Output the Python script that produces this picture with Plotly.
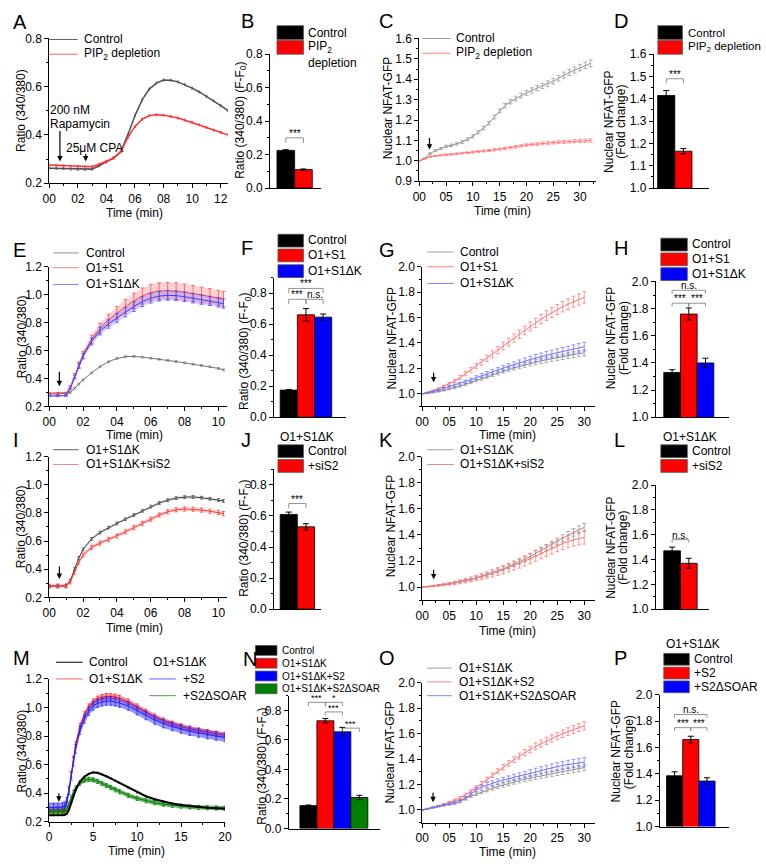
import plotly.graph_objects as go

W, H = 766, 866
FONT = "Liberation Sans"

# ---------------- data ----------------
A_t = [0, 0.5, 1, 1.5, 2, 2.5, 3, 3.5, 4, 4.5, 5, 5.5, 6, 6.5, 7, 7.5, 8, 8.5, 9, 9.5, 10, 10.5, 11, 11.5, 12, 12.5]
A_ctrl = [0.262, 0.261, 0.260, 0.258, 0.257, 0.256, 0.258, 0.272, 0.288, 0.305, 0.330, 0.400, 0.480, 0.545, 0.590, 0.615, 0.628, 0.627, 0.620, 0.608, 0.594, 0.578, 0.560, 0.541, 0.521, 0.501]
A_pip = [0.275, 0.274, 0.272, 0.270, 0.268, 0.267, 0.268, 0.278, 0.290, 0.303, 0.330, 0.390, 0.435, 0.465, 0.480, 0.484, 0.482, 0.477, 0.470, 0.461, 0.452, 0.442, 0.431, 0.420, 0.410, 0.400]
A_sem = 0.004

B_vals = [0.225, 0.11]
B_err = [0.004, 0.004]

C_t = list(range(33))
C_ctrl = [1.000, 1.012, 1.035, 1.050, 1.060, 1.070, 1.076, 1.083, 1.092, 1.105, 1.120, 1.140, 1.160, 1.185, 1.215, 1.245, 1.270, 1.290, 1.305, 1.320, 1.333, 1.345, 1.356, 1.367, 1.378, 1.390, 1.405, 1.420, 1.433, 1.445, 1.457, 1.468, 1.478]
C_pip = [1.000, 1.010, 1.020, 1.024, 1.027, 1.030, 1.032, 1.035, 1.037, 1.040, 1.042, 1.045, 1.048, 1.050, 1.054, 1.057, 1.060, 1.064, 1.068, 1.073, 1.077, 1.080, 1.082, 1.085, 1.087, 1.089, 1.091, 1.092, 1.094, 1.096, 1.097, 1.098, 1.099]
C_ctrl_err = [0, 0.002, 0.004, 0.005, 0.005, 0.006, 0.006, 0.006, 0.007, 0.007, 0.008, 0.008, 0.009, 0.009, 0.010, 0.010, 0.011, 0.011, 0.012, 0.012, 0.012, 0.013, 0.013, 0.013, 0.014, 0.014, 0.014, 0.015, 0.015, 0.015, 0.016, 0.016, 0.016]
C_pip_err = [0, 0.002, 0.003, 0.003, 0.003, 0.004, 0.004, 0.004, 0.004, 0.004, 0.005, 0.005, 0.005, 0.005, 0.005, 0.005, 0.006, 0.006, 0.006, 0.006, 0.006, 0.006, 0.007, 0.007, 0.007, 0.007, 0.007, 0.007, 0.007, 0.008, 0.008, 0.008, 0.008]

D_vals = [1.415, 1.165]
D_err = [0.022, 0.012]

E_t = [0, 0.5, 1.0, 1.25, 1.5, 1.75, 2.0, 2.5, 3.0, 3.5, 4.0, 4.5, 5.0, 5.5, 6.0, 6.5, 7.0, 7.5, 8.0, 8.5, 9.0, 9.5, 10.0, 10.3]
E_ctrl = [0.295, 0.295, 0.296, 0.300, 0.330, 0.360, 0.390, 0.440, 0.485, 0.520, 0.543, 0.556, 0.558, 0.553, 0.546, 0.538, 0.530, 0.521, 0.512, 0.503, 0.494, 0.484, 0.472, 0.462]
E_s1 = [0.290, 0.290, 0.292, 0.340, 0.420, 0.500, 0.570, 0.680, 0.760, 0.820, 0.870, 0.915, 0.955, 0.990, 1.015, 1.025, 1.028, 1.025, 1.018, 1.008, 0.998, 0.988, 0.978, 0.970]
E_dk = [0.275, 0.275, 0.277, 0.330, 0.410, 0.490, 0.560, 0.665, 0.740, 0.790, 0.835, 0.875, 0.915, 0.950, 0.975, 0.990, 0.995, 0.993, 0.985, 0.975, 0.965, 0.955, 0.944, 0.936]
E_ctrl_sem = 0.006
E_s1_err = [0.006, 0.006, 0.006, 0.010, 0.015, 0.020, 0.025, 0.030, 0.035, 0.040, 0.045, 0.050, 0.055, 0.058, 0.060, 0.060, 0.060, 0.060, 0.058, 0.057, 0.056, 0.055, 0.054, 0.053]
E_dk_err = [0.006, 0.006, 0.006, 0.010, 0.014, 0.018, 0.020, 0.025, 0.028, 0.030, 0.032, 0.034, 0.035, 0.035, 0.035, 0.035, 0.035, 0.035, 0.035, 0.034, 0.034, 0.033, 0.033, 0.033]

F_vals = [0.175, 0.66, 0.645]
F_err = [0.004, 0.04, 0.02]

G_t = list(range(31))
G_ctrl = [1.000, 1.004, 1.009, 1.017, 1.026, 1.036, 1.047, 1.060, 1.074, 1.089, 1.104, 1.119, 1.134, 1.149, 1.164, 1.178, 1.190, 1.203, 1.215, 1.227, 1.238, 1.248, 1.258, 1.267, 1.276, 1.284, 1.292, 1.300, 1.308, 1.315, 1.322]
G_s1 = [1.000, 1.010, 1.025, 1.040, 1.058, 1.078, 1.100, 1.128, 1.158, 1.188, 1.218, 1.248, 1.278, 1.310, 1.343, 1.376, 1.407, 1.438, 1.468, 1.498, 1.530, 1.558, 1.588, 1.615, 1.640, 1.663, 1.685, 1.705, 1.725, 1.742, 1.758]
G_dk = [1.000, 1.008, 1.018, 1.030, 1.043, 1.055, 1.066, 1.080, 1.095, 1.110, 1.126, 1.143, 1.158, 1.173, 1.188, 1.203, 1.215, 1.228, 1.242, 1.256, 1.270, 1.282, 1.293, 1.303, 1.313, 1.323, 1.333, 1.343, 1.352, 1.361, 1.370]
G_ctrl_err = [0, 0.002, 0.003, 0.004, 0.005, 0.006, 0.007, 0.008, 0.009, 0.010, 0.011, 0.012, 0.013, 0.014, 0.015, 0.016, 0.017, 0.017, 0.018, 0.019, 0.019, 0.020, 0.020, 0.021, 0.021, 0.022, 0.022, 0.023, 0.023, 0.024, 0.024]
G_s1_err = [0, 0.003, 0.005, 0.007, 0.009, 0.011, 0.013, 0.015, 0.017, 0.019, 0.021, 0.023, 0.025, 0.027, 0.028, 0.030, 0.031, 0.032, 0.033, 0.034, 0.035, 0.036, 0.037, 0.038, 0.039, 0.040, 0.041, 0.042, 0.043, 0.044, 0.045]
G_dk_err = [0, 0.002, 0.004, 0.005, 0.007, 0.008, 0.010, 0.011, 0.013, 0.014, 0.016, 0.017, 0.018, 0.019, 0.020, 0.021, 0.022, 0.023, 0.024, 0.025, 0.026, 0.027, 0.028, 0.029, 0.030, 0.031, 0.031, 0.032, 0.033, 0.034, 0.034]

H_vals = [1.33, 1.76, 1.40]
H_err = [0.02, 0.045, 0.035]

I_t = [0, 0.5, 1.0, 1.25, 1.5, 1.75, 2.0, 2.5, 3.0, 3.5, 4.0, 4.5, 5.0, 5.5, 6.0, 6.5, 7.0, 7.5, 8.0, 8.5, 9.0, 9.5, 10.0, 10.3]
I_dk = [0.280, 0.280, 0.281, 0.320, 0.400, 0.480, 0.540, 0.615, 0.660, 0.695, 0.725, 0.755, 0.785, 0.815, 0.845, 0.870, 0.890, 0.905, 0.912, 0.913, 0.908, 0.900, 0.892, 0.885]
I_si = [0.280, 0.280, 0.281, 0.310, 0.380, 0.450, 0.500, 0.555, 0.585, 0.610, 0.635, 0.665, 0.695, 0.725, 0.755, 0.785, 0.808, 0.822, 0.828, 0.826, 0.820, 0.812, 0.803, 0.795]
I_dk_sem = 0.010
I_si_sem = 0.015

J_vals = [0.61, 0.53]
J_err = [0.015, 0.02]

K_t = list(range(31))
K_dk = [1.000, 1.004, 1.009, 1.014, 1.020, 1.026, 1.033, 1.041, 1.050, 1.060, 1.071, 1.083, 1.096, 1.110, 1.125, 1.141, 1.158, 1.176, 1.195, 1.215, 1.236, 1.258, 1.280, 1.303, 1.327, 1.351, 1.375, 1.398, 1.420, 1.440, 1.458]
K_si = [1.000, 1.004, 1.009, 1.014, 1.020, 1.026, 1.033, 1.041, 1.050, 1.060, 1.070, 1.081, 1.093, 1.106, 1.120, 1.135, 1.150, 1.166, 1.183, 1.201, 1.220, 1.240, 1.260, 1.280, 1.299, 1.317, 1.334, 1.350, 1.363, 1.373, 1.380]
K_dk_err = [0, 0.002, 0.003, 0.004, 0.005, 0.006, 0.007, 0.008, 0.009, 0.010, 0.011, 0.012, 0.013, 0.014, 0.015, 0.016, 0.017, 0.018, 0.019, 0.020, 0.021, 0.022, 0.023, 0.024, 0.025, 0.026, 0.027, 0.028, 0.029, 0.030, 0.030]
K_si_err = [0, 0.003, 0.005, 0.007, 0.009, 0.011, 0.013, 0.015, 0.017, 0.019, 0.021, 0.023, 0.025, 0.027, 0.029, 0.031, 0.033, 0.035, 0.037, 0.039, 0.040, 0.041, 0.042, 0.043, 0.044, 0.045, 0.046, 0.047, 0.048, 0.049, 0.050]

L_vals = [1.47, 1.37]
L_err = [0.03, 0.04]

M_t = [0, 0.5, 1, 1.5, 1.75, 2, 2.25, 2.5, 2.75, 3, 3.5, 4, 4.5, 5, 5.5, 6, 6.5, 7, 7.5, 8, 9, 10, 11, 12, 13, 14, 15, 16, 17, 18, 19, 20]
M_ctrl = [0.245, 0.245, 0.245, 0.245, 0.247, 0.255, 0.285, 0.330, 0.380, 0.420, 0.480, 0.515, 0.535, 0.545, 0.542, 0.532, 0.518, 0.503, 0.487, 0.470, 0.438, 0.405, 0.378, 0.357, 0.340, 0.327, 0.317, 0.309, 0.303, 0.298, 0.294, 0.291]
M_red = [0.280, 0.280, 0.280, 0.282, 0.290, 0.330, 0.420, 0.530, 0.640, 0.740, 0.870, 0.950, 1.005, 1.040, 1.060, 1.072, 1.078, 1.078, 1.074, 1.065, 1.040, 1.005, 0.968, 0.935, 0.907, 0.884, 0.866, 0.851, 0.838, 0.826, 0.815, 0.806]
M_blue = [0.300, 0.300, 0.300, 0.302, 0.308, 0.340, 0.420, 0.520, 0.620, 0.710, 0.840, 0.920, 0.975, 1.010, 1.030, 1.040, 1.045, 1.045, 1.040, 1.032, 1.010, 0.978, 0.944, 0.913, 0.887, 0.866, 0.849, 0.834, 0.821, 0.810, 0.800, 0.790]
M_green = [0.268, 0.268, 0.268, 0.268, 0.270, 0.285, 0.320, 0.365, 0.405, 0.435, 0.470, 0.490, 0.497, 0.493, 0.482, 0.468, 0.453, 0.438, 0.423, 0.409, 0.384, 0.363, 0.346, 0.333, 0.322, 0.314, 0.308, 0.303, 0.300, 0.297, 0.295, 0.294]
M_ctrl_sem = 0.004
M_red_sem = 0.02
M_blue_sem = 0.03
M_green_sem = 0.015

N_vals = [0.155, 0.73, 0.655, 0.21]
N_err = [0.004, 0.015, 0.03, 0.015]

O_t = list(range(31))
O_dk = [1.000, 1.008, 1.017, 1.027, 1.038, 1.050, 1.063, 1.077, 1.092, 1.108, 1.125, 1.140, 1.155, 1.170, 1.184, 1.197, 1.209, 1.220, 1.231, 1.241, 1.251, 1.260, 1.269, 1.277, 1.285, 1.293, 1.301, 1.309, 1.317, 1.325, 1.333]
O_s2 = [1.000, 1.010, 1.020, 1.031, 1.044, 1.058, 1.075, 1.095, 1.118, 1.145, 1.175, 1.207, 1.240, 1.273, 1.305, 1.336, 1.366, 1.395, 1.423, 1.450, 1.476, 1.500, 1.522, 1.543, 1.563, 1.582, 1.600, 1.617, 1.633, 1.648, 1.662]
O_ds = [1.000, 1.010, 1.020, 1.030, 1.038, 1.044, 1.052, 1.065, 1.090, 1.125, 1.160, 1.180, 1.196, 1.210, 1.223, 1.235, 1.246, 1.257, 1.268, 1.279, 1.290, 1.301, 1.312, 1.322, 1.332, 1.341, 1.350, 1.358, 1.365, 1.371, 1.376]
O_dk_err = [0, 0.002, 0.003, 0.004, 0.005, 0.006, 0.007, 0.008, 0.009, 0.010, 0.011, 0.012, 0.013, 0.014, 0.015, 0.016, 0.017, 0.017, 0.018, 0.019, 0.019, 0.020, 0.020, 0.021, 0.021, 0.022, 0.022, 0.023, 0.023, 0.024, 0.024]
O_s2_err = [0, 0.002, 0.004, 0.005, 0.007, 0.008, 0.010, 0.011, 0.013, 0.014, 0.016, 0.017, 0.018, 0.019, 0.020, 0.021, 0.022, 0.023, 0.024, 0.025, 0.026, 0.027, 0.028, 0.028, 0.029, 0.029, 0.030, 0.030, 0.031, 0.031, 0.032]
O_ds_err = [0, 0.002, 0.004, 0.005, 0.007, 0.008, 0.010, 0.011, 0.013, 0.014, 0.016, 0.017, 0.018, 0.019, 0.020, 0.021, 0.022, 0.023, 0.024, 0.025, 0.026, 0.027, 0.028, 0.029, 0.030, 0.031, 0.031, 0.032, 0.033, 0.034, 0.035]

P_vals = [1.385, 1.66, 1.345]
P_err = [0.03, 0.025, 0.025]

# tick labels
T12_vals = [0, 2, 4, 6, 8, 10, 12]
T12_text = ["00", "02", "04", "06", "08", "10", "12"]
T10_vals = [0, 2, 4, 6, 8, 10]
T10_text = ["00", "02", "04", "06", "08", "10"]
T30_vals = [0, 5, 10, 15, 20, 25, 30]
T30_text = ["00", "05", "10", "15", "20", "25", "30"]
T20_vals = [0, 5, 10, 15, 20]
T20_text = ["0", "5", "10", "15", "20"]

# ---------------- helpers ----------------
BLACK, RED, BLUE, GREEN = "#000000", "#ff0000", "#0000ff", "#008000"
fig = go.Figure()
LAY = dict(width=W, height=H, margin=dict(l=0, r=0, t=0, b=0), paper_bgcolor="white",
           plot_bgcolor="white", showlegend=False, font=dict(family=FONT, size=12, color="black"))
shapes, annots = [], []


def PX(x):
    return x / W


def PY(y):
    return 1 - y / H


def fmt(vals, nd=1):
    return [f"{v:.{nd}f}" for v in vals]


naxes = [0]


def axes(box, xr, yr, ytv, xtv=None, xtt=None, xminor=None, yminor=None, bar=False):
    naxes[0] += 1
    n = naxes[0]
    s = "" if n == 1 else str(n)
    l, t, r, b = box
    common = dict(showgrid=False, zeroline=False, showline=True, linecolor="black", linewidth=1,
                  ticks="outside", ticklen=4, tickwidth=1, tickcolor="black",
                  tickfont=dict(family=FONT, size=12, color="black"), fixedrange=True)
    xa = dict(common, domain=[PX(l), PX(r)], range=xr, anchor="y" + s)
    if bar:
        xa.update(showticklabels=False, ticks="")
    else:
        xa.update(tickvals=xtv, ticktext=xtt)
        if xminor:
            xa["minor"] = dict(dtick=xminor, tick0=0, ticks="outside", ticklen=2, tickcolor="black", tickwidth=1)
    ya = dict(common, domain=[PY(b), PY(t)], range=yr, anchor="x" + s, tickvals=ytv, ticktext=fmt(ytv))
    if yminor:
        ya["minor"] = dict(dtick=yminor, tick0=0, ticks="outside", ticklen=2, tickcolor="black", tickwidth=1)
    LAY["xaxis" + s] = xa
    LAY["yaxis" + s] = ya
    return "x" + s, "y" + s


def series(ax, t, y, err, color, width=1.0, cap=2, ethick=0.7, band=None, const=False):
    xa, ya = ax
    if band:
        e = err if not const else [err] * len(y)
        up = [a + b for a, b in zip(y, e)]
        lo = [a - b for a, b in zip(y, e)]
        fig.add_trace(go.Scatter(x=t, y=up, mode="lines", line=dict(width=0), xaxis=xa, yaxis=ya, hoverinfo="skip"))
        fig.add_trace(go.Scatter(x=t, y=lo, mode="lines", line=dict(width=0), fill="tonexty",
                                 fillcolor=band, xaxis=xa, yaxis=ya, hoverinfo="skip"))
    ey = dict(type="constant", value=err) if const else dict(type="data", array=err)
    ey.update(color=color, thickness=ethick, width=cap)
    fig.add_trace(go.Scatter(x=t, y=y, mode="lines", line=dict(color=color, width=width),
                             error_y=ey, xaxis=xa, yaxis=ya))


def bars(ax, vals, errs, colors):
    xa, ya = ax
    fig.add_trace(go.Bar(x=list(range(len(vals))), y=vals, width=1,
                         marker=dict(color=colors, line=dict(color="black", width=0.8)),
                         error_y=dict(type="data", array=errs, color="black", thickness=1, width=3),
                         xaxis=xa, yaxis=ya))


def bracket(ax, x0, x1, y, leg, text, size=10):
    xa, ya = ax
    shapes.append(dict(type="path", path=f"M {x0},{y - leg} L {x0},{y} L {x1},{y} L {x1},{y - leg}",
                       xref=xa, yref=ya, line=dict(color="#777", width=0.8)))
    annots.append(dict(x=(x0 + x1) / 2, y=y, xref=xa, yref=ya, text=text, showarrow=False,
                       yanchor="bottom", yshift=-3, font=dict(family=FONT, size=size, color="black")))


def arrow(ax, x, y, length=14):
    xa, ya = ax
    annots.append(dict(x=x, y=y, xref=xa, yref=ya, text="", showarrow=True, ax=0, ay=-length,
                       arrowhead=2, arrowsize=0.9, arrowwidth=1.2, arrowcolor="black"))


def txt(x, y, s, size=12, xanchor="left", yanchor="middle", angle=0):
    annots.append(dict(x=PX(x), y=PY(y), xref="paper", yref="paper", text=s, showarrow=False,
                       xanchor=xanchor, yanchor=yanchor, textangle=angle,
                       font=dict(family=FONT, size=size, color="black")))


def leg_line(x0, x1, y, color, label, tx, size=12):
    shapes.append(dict(type="line", x0=PX(x0), x1=PX(x1), y0=PY(y), y1=PY(y), xref="paper", yref="paper",
                       line=dict(color=color, width=1)))
    txt(tx, y, label, size=size)


def leg_box(x0, x1, y0, y1, color, label, tx, ty, size=12):
    shapes.append(dict(type="rect", x0=PX(x0), x1=PX(x1), y0=PY(y1), y1=PY(y0), xref="paper", yref="paper",
                       fillcolor=color, line=dict(color="#555", width=0.8)))
    txt(tx, ty, label, size=size)


def barbox(left, c0, w, right, top, bottom):
    return (left, top, right, bottom), [(left - c0) / w, (right - c0) / w]


# ---------------- Row 1 ----------------
axA = axes((43, 32, 225, 179), [0, 12.5], [0.2, 0.8], [0.2, 0.4, 0.6, 0.8], T12_vals, T12_text, 1, 0.1)
series(axA, A_t, A_ctrl, A_sem, "#505050", width=1.5, cap=1, const=True)
series(axA, A_t, A_pip, A_sem, "#ff3030", width=1.5, cap=1, const=True)
leg_line(43, 72, 33, "#606060", "Control", 76)
leg_line(43, 72, 48, "#ff6060", "PIP<sub>2</sub> depletion", 76)
txt(42, 104.5, "200 nM")
txt(42, 119, "Rapamycin")
txt(58, 143, "25μM CPA")
arrow(axA, 0.75, 0.29, 32)
arrow(axA, 2.55, 0.29, 9)
txt(130, 209, "Time (min)", xanchor="center")
txt(15, 105, "Ratio (340/380)", angle=-90, xanchor="center")
txt(4, 15, "A", size=20)

box, xr = barbox(268, 284, 18, 320, 48, 184)
axB = axes(box, xr, [0, 0.8], [0.0, 0.2, 0.4, 0.6, 0.8], yminor=0.1, bar=True)
bars(axB, B_vals, B_err, [BLACK, RED])
bracket(axB, 0, 1, 0.30, 0.03, "***")
leg_box(275, 302, 19, 33, BLACK, "Control", 305, 26)
leg_box(275, 302, 34, 48, RED, "PIP<sub>2</sub>", 305, 41)
txt(305, 57, "depletion")
txt(238, 115, "Ratio (340/380) (F-F<sub>0</sub>)", angle=-90, xanchor="center")
txt(236, 14, "B", size=20)

axC = axes((420, 32, 600, 177), [0, 33], [0.9, 1.6], [0.9, 1.0, 1.1, 1.2, 1.3, 1.4, 1.5, 1.6], T30_vals, T30_text, 2.5, 0.05)
series(axC, C_t, C_ctrl, C_ctrl_err, "#909090")
series(axC, C_t, C_pip, C_pip_err, "#ff7070")
arrow(axC, 1.9, 1.055, 13)
leg_line(423, 452, 32, "#a0a0a0", "Control", 455)
leg_line(423, 452, 47, "#ff8080", "PIP<sub>2</sub> depletion", 455)
txt(505, 207, "Time (min)", xanchor="center")
txt(388, 103, "Nuclear NFAT-GFP", angle=-90, xanchor="center")
txt(377, 14, "C", size=20)

box, xr = barbox(659, 671.5, 17.5, 715, 48, 184)
axD = axes(box, xr, [1.0, 1.6], [1.0, 1.1, 1.2, 1.3, 1.4, 1.5, 1.6], yminor=0.05, bar=True)
bars(axD, D_vals, D_err, [BLACK, RED])
bracket(axD, 0, 1, 1.49, 0.02, "***")
leg_box(663, 688, 19, 33, BLACK, "Control", 692, 26, size=11.5)
leg_box(663, 688, 34, 48, RED, "PIP<sub>2</sub> depletion", 692, 41, size=11.5)
txt(613, 117, "Nuclear NFAT-GFP", angle=-90, xanchor="center")
txt(626, 117, "(Fold change)", angle=-90, xanchor="center")
txt(616, 14, "D", size=20)

# ---------------- Row 2 ----------------
axE = axes((43, 264, 224, 406), [0, 10.5], [0.2, 1.2], [0.2, 0.4, 0.6, 0.8, 1.0, 1.2], T10_vals, T10_text, 1, 0.1)
series(axE, E_t, E_ctrl, E_ctrl_sem, "#707070", cap=1.5, const=True)
series(axE, E_t, E_s1, E_s1_err, "#ff4040", band="rgba(255,80,80,0.25)")
series(axE, E_t, E_dk, E_dk_err, "#4040ff", band="rgba(80,80,255,0.25)")
arrow(axE, 0.6, 0.345, 16)
leg_line(47, 73, 250, "#909090", "Control", 78)
leg_line(47, 73, 265, "#ff8080", "O1+S1", 78)
leg_line(47, 73, 282, "#8080ff", "O1+S1ΔK", 78)
txt(130, 435, "Time (min)", xanchor="center")
txt(15, 335, "Ratio (340/380)", angle=-90, xanchor="center")
txt(4, 247, "E", size=20)

box, xr = barbox(272, 287, 17.5, 345, 275, 417)
axF = axes(box, xr, [0, 0.9], [0.0, 0.2, 0.4, 0.6, 0.8], yminor=0.1, bar=True)
bars(axF, F_vals, F_err, [BLACK, RED, BLUE])
bracket(axF, 0, 2, 0.83, 0.03, "***")
bracket(axF, 0, 1, 0.76, 0.03, "***")
bracket(axF, 1, 2, 0.76, 0.03, "n.s.")
leg_box(276, 302, 231, 244, BLACK, "Control", 305, 237)
leg_box(276, 302, 246, 259, RED, "O1+S1", 305, 252)
leg_box(276, 302, 262, 275, BLUE, "O1+S1ΔK", 305, 268)
txt(243, 350, "Ratio (340/380) (F-F<sub>0</sub>)", angle=-90, xanchor="center")
txt(236, 245, "F", size=20)

axG = axes((423, 264, 599, 406), [0, 32], [0.9, 2.0], [1.0, 1.2, 1.4, 1.6, 1.8, 2.0], T30_vals, T30_text, 2.5, 0.1)
series(axG, G_t, G_ctrl, G_ctrl_err, "#909090")
series(axG, G_t, G_s1, G_s1_err, "#ff7070")
series(axG, G_t, G_dk, G_dk_err, "#7070ff")
arrow(axG, 2.1, 1.09, 11)
leg_line(428, 455, 249, "#a0a0a0", "Control", 459)
leg_line(428, 455, 264, "#ff8080", "O1+S1", 459)
leg_line(428, 455, 281, "#8080ff", "O1+S1ΔK", 459)
txt(510, 435.5, "Time (min)", xanchor="center")
txt(392, 337, "Nuclear NFAT-GFP", angle=-90, xanchor="center")
txt(377, 247, "G", size=20)

box, xr = barbox(661, 677.5, 17, 735, 279, 417)
axH = axes(box, xr, [1.0, 2.0], [1.0, 1.2, 1.4, 1.6, 1.8, 2.0], yminor=0.1, bar=True)
bars(axH, H_vals, H_err, [BLACK, RED, BLUE])
bracket(axH, 0, 2, 1.935, 0.025, "n.s.")
bracket(axH, 0, 1, 1.84, 0.025, "***")
bracket(axH, 1, 2, 1.84, 0.025, "***")
leg_box(666, 693, 235, 248, BLACK, "Control", 696, 241)
leg_box(666, 693, 250, 263, RED, "O1+S1", 696, 256)
leg_box(666, 693, 265, 278, BLUE, "O1+S1ΔK", 696, 271)
txt(615, 337, "Nuclear NFAT-GFP", angle=-90, xanchor="center")
txt(628, 337, "(Fold change)", angle=-90, xanchor="center")
txt(616, 245, "H", size=20)

# ---------------- Row 3 ----------------
axI = axes((43, 457, 224, 600), [0, 10.5], [0.2, 1.2], [0.2, 0.4, 0.6, 0.8, 1.0, 1.2], T10_vals, T10_text, 1, 0.1)
series(axI, I_t, I_dk, I_dk_sem, "#404040", cap=1.5, const=True, band="rgba(80,80,80,0.2)")
series(axI, I_t, I_si, I_si_sem, "#ff3030", cap=1.5, const=True, band="rgba(255,80,80,0.2)")
arrow(axI, 0.6, 0.33, 14)
leg_line(47, 73, 450, "#606060", "O1+S1ΔK", 78)
leg_line(47, 73, 465, "#ff8080", "O1+S1ΔK+siS2", 78)
txt(130, 631, "Time (min)", xanchor="center")
txt(15, 528, "Ratio (340/380)", angle=-90, xanchor="center")
txt(4, 440, "I", size=20)

box, xr = barbox(272, 287, 17.5, 320, 470, 612)
axJ = axes(box, xr, [0, 0.9], [0.0, 0.2, 0.4, 0.6, 0.8], yminor=0.1, bar=True)
bars(axJ, J_vals, J_err, [BLACK, RED])
bracket(axJ, 0, 1, 0.68, 0.03, "***")
txt(276, 437, "O1+S1ΔK")
leg_box(276, 302, 445, 458, BLACK, "Control", 305, 451)
leg_box(276, 302, 460, 473, RED, "+siS2", 305, 467)
txt(243, 540, "Ratio (340/380) (F-F<sub>0</sub>)", angle=-90, xanchor="center")
txt(236, 440, "J", size=20)

axK = axes((423, 457, 599, 603), [0, 32], [0.9, 2.0], [1.0, 1.2, 1.4, 1.6, 1.8, 2.0], T30_vals, T30_text, 2.5, 0.1)
series(axK, K_t, K_dk, K_dk_err, "#909090")
series(axK, K_t, K_si, K_si_err, "#ff7070")
arrow(axK, 2.1, 1.06, 11)
leg_line(428, 455, 450, "#a0a0a0", "O1+S1ΔK", 459)
leg_line(428, 455, 465, "#ff8080", "O1+S1ΔK+siS2", 459)
txt(510, 634, "Time (min)", xanchor="center")
txt(392, 528, "Nuclear NFAT-GFP", angle=-90, xanchor="center")
txt(377, 440, "K", size=20)

box, xr = barbox(661, 677.5, 17, 715, 486, 612)
axL = axes(box, xr, [1.0, 2.0], [1.0, 1.2, 1.4, 1.6, 1.8, 2.0], yminor=0.1, bar=True)
bars(axL, L_vals, L_err, [BLACK, RED])
bracket(axL, 0, 1, 1.56, 0.025, "n.s.")
txt(666, 437, "O1+S1ΔK")
leg_box(666, 693, 445, 458, BLACK, "Control", 696, 451)
leg_box(666, 693, 460, 473, RED, "+siS2", 696, 467)
txt(615, 550, "Nuclear NFAT-GFP", angle=-90, xanchor="center")
txt(628, 550, "(Fold change)", angle=-90, xanchor="center")
txt(616, 440, "L", size=20)

# ---------------- Row 4 ----------------
axM = axes((43, 683, 222, 828), [0, 20], [0.2, 1.2], [0.2, 0.4, 0.6, 0.8, 1.0, 1.2], T20_vals, T20_text, 2.5, 0.1)
series(axM, M_t, M_red, M_red_sem, "#ff2020", cap=1.5, const=True, band="rgba(255,40,40,0.5)")
series(axM, M_t, M_blue, M_blue_sem, "#2020ff", cap=1.5, const=True, band="rgba(40,40,255,0.5)")
series(axM, M_t, M_green, M_green_sem, "#008000", cap=1.5, const=True, band="rgba(0,128,0,0.6)")
series(axM, M_t, M_ctrl, M_ctrl_sem, "#000000", width=2, cap=1, const=True)
arrow(axM, 1.1, 0.34, 10)
leg_line(50, 77, 666, "#000000", "Control", 81)
leg_line(50, 77, 683, "#ff6060", "O1+S1ΔK", 81)
txt(147, 666, "O1+S1ΔK")
leg_line(145, 172, 683, "#6060ff", "+S2", 177)
leg_line(145, 172, 700, "#40a040", "+S2ΔSOAR", 177)
txt(132, 858, "Time (min)", xanchor="center")
txt(15, 756, "Ratio (340/380)", angle=-90, xanchor="center")
txt(4, 662, "M", size=20)

box, xr = barbox(287, 307, 17.3, 380, 700, 835)
axN = axes(box, xr, [0, 0.9], [0.0, 0.2, 0.4, 0.6, 0.8], yminor=0.1, bar=True)
bars(axN, N_vals, N_err, [BLACK, RED, BLUE, GREEN])
bracket(axN, 0, 1, 0.855, 0.025, "***", size=9)
bracket(axN, 1, 2, 0.855, 0.025, "*", size=9)
bracket(axN, 1, 2, 0.79, 0.025, "***", size=9)
bracket(axN, 2, 3, 0.68, 0.025, "***", size=9)
leg_box(253, 275, 649, 659, BLACK, "Control", 278, 654, size=10)
leg_box(253, 275, 662, 672, RED, "O1+S1ΔK", 278, 667, size=10)
leg_box(253, 275, 675, 685, BLUE, "O1+S1ΔK+S2", 278, 680, size=10)
leg_box(253, 275, 688, 698, GREEN, "O1+S1ΔK+S2ΔSOAR", 278, 693, size=10)
txt(260, 772, "Ratio (340/380) (F-F<sub>0</sub>)", angle=-90, xanchor="center")
txt(238, 663, "N", size=20)

axO = axes((423, 687, 599, 829), [0, 32], [0.9, 2.0], [1.0, 1.2, 1.4, 1.6, 1.8, 2.0], T30_vals, T30_text, 2.5, 0.1)
series(axO, O_t, O_dk, O_dk_err, "#909090")
series(axO, O_t, O_s2, O_s2_err, "#ff7070")
series(axO, O_t, O_ds, O_ds_err, "#7070ff")
arrow(axO, 2.0, 1.06, 11)
leg_line(428, 453, 672, "#a0a0a0", "O1+S1ΔK", 458)
leg_line(428, 453, 686, "#ff8080", "O1+S1ΔK+S2", 458)
leg_line(428, 453, 700, "#8080ff", "O1+S1ΔK+S2ΔSOAR", 458)
txt(510, 858.5, "Time (min)", xanchor="center")
txt(390, 758, "Nuclear NFAT-GFP", angle=-90, xanchor="center")
txt(377, 662, "O", size=20)

box, xr = barbox(665, 680, 16.5, 735, 699, 833)
axP = axes(box, xr, [1.0, 2.0], [1.0, 1.2, 1.4, 1.6, 1.8, 2.0], yminor=0.1, bar=True)
bars(axP, P_vals, P_err, [BLACK, RED, BLUE])
bracket(axP, 0, 2, 1.85, 0.025, "n.s.")
bracket(axP, 0, 1, 1.75, 0.025, "***")
bracket(axP, 1, 2, 1.75, 0.025, "***")
txt(669, 647, "O1+S1ΔK")
leg_box(669, 695, 657, 669, BLACK, "Control", 698, 663)
leg_box(669, 695, 671, 683, RED, "+S2", 698, 677)
leg_box(669, 695, 685, 697, BLUE, "+S2ΔSOAR", 698, 691)
txt(620, 757, "Nuclear NFAT-GFP", angle=-90, xanchor="center")
txt(633, 757, "(Fold change)", angle=-90, xanchor="center")
txt(616, 662, "P", size=20)

LAY["shapes"] = shapes
LAY["annotations"] = annots
fig.update_layout(**LAY)
fig.write_html("out.html", config={"displayModeBar": False},
               post_script="document.body.style.margin='0';document.body.style.overflow='hidden';")
